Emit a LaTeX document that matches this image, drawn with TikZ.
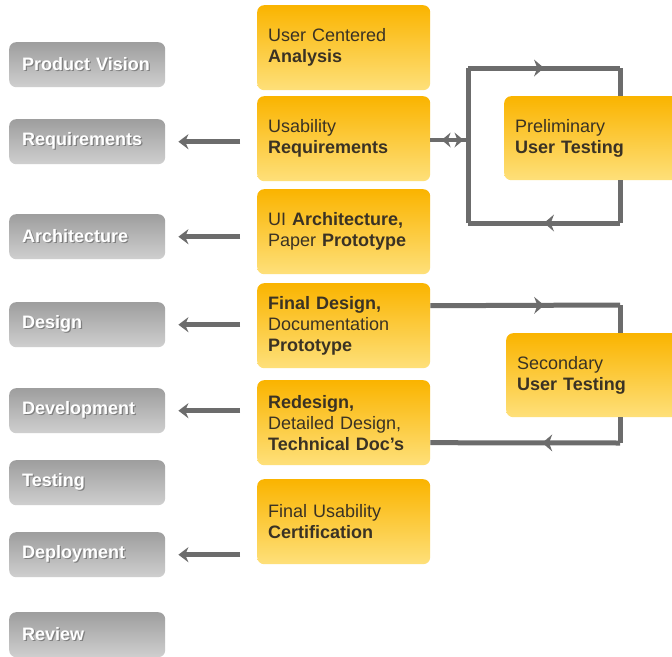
\documentclass[tikz,border=0pt]{standalone}
\usepackage{fontspec}
\setmainfont{Liberation Sans}
\usetikzlibrary{arrows.meta,decorations.markings}

\definecolor{phasetop}{HTML}{9E9E9E}
\definecolor{phasebottom}{HTML}{CFCFCF}
\definecolor{acttop}{HTML}{FAB400}
\definecolor{actbottom}{HTML}{FEE07A}
\definecolor{acttext}{HTML}{3A3224}
\definecolor{linkgray}{HTML}{6C6C6C}

\newcommand*\phasewidth{156pt}
\newcommand*\phaseheight{45pt}
\newcommand*\actwidth{173pt}
\newcommand*\actheight{85pt}
\newcommand*\embossed[1]{\makebox[0pt][l]{\hspace{1.2pt}\raisebox{-1.2pt}{\color{black!50}#1}}#1}

\tikzset{
  phase/.style={
    rectangle,
    rounded corners=7pt,
    anchor=north west,
    top color=phasetop,
    bottom color=phasebottom,
    text=white,
    font=\fontsize{18}{21}\selectfont\bfseries,
    inner xsep=13pt,
    text width=\phasewidth-26pt,
    minimum height=\phaseheight,
    align=left
  },
  activity/.style={
    rectangle,
    rounded corners=7pt,
    anchor=north west,
    top color=acttop,
    bottom color=actbottom,
    text=acttext,
    font=\fontsize{18}{21}\selectfont,
    inner xsep=11pt,
    text width=\actwidth-22pt,
    minimum height=\actheight,
    align=left
  },
  testing/.style={
    activity,
    text width=170pt,
    minimum height=84pt
  },
  feed/.style={
    draw=linkgray,
    line width=5pt,
    -{Stealth[length=10pt,width=15pt]}
  },
  loopline/.style={
    draw=linkgray,
    line width=5pt
  },
  midarrow/.style={
    postaction={decorate},
    decoration={markings,
      mark=at position #1 with {\arrow{Stealth[length=10pt,width=17pt,line width=0pt]}}}
  },
  midarrow/.default=0.5
}

\begin{document}
\begin{tikzpicture}[x=1pt,y=-1pt]

    \clip (0,0) rectangle (672,656);
    \fill[white] (0,0) rectangle (672,656);

    % Phases down the left side.
    \foreach \name/\ypos/\phasename in {vision/42/Product Vision,req/119/Requirements,arch/214/Architecture,design/302/Design,dev/388/Development,test/460/Testing,deploy/532/Deployment,review/612/Review}
        \node[phase] (\name) at (9,\ypos) {\embossed{\phasename}};

    % Usability activities in the middle column.
    \node[activity] (uca) at (257,5) {User Centered\\\textbf{Analysis}};
    \node[activity] (ureq) at (257,96) {Usability\\\textbf{Requirements}};
    \node[activity] (uiarch) at (257,189) {UI \textbf{Architecture,}\\Paper \textbf{Prototype}};
    \node[activity] (fdes) at (257,283) {\textbf{Final Design,}\\Documentation\\\textbf{Prototype}};
    \node[activity] (redes) at (257,380) {\textbf{Redesign,}\\Detailed Design,\\\textbf{Technical Doc's}};
    \node[activity] (cert) at (257,479) {Final Usability\\\textbf{Certification}};

    % Test rounds on the right.
    \node[testing] (prelim) at (504,96) {Preliminary\\\textbf{User Testing}};
    \node[testing] (second) at (506,333) {Secondary\\\textbf{User Testing}};

    % Activities feed the phases.
    \foreach \from/\to in {ureq/req,uiarch/arch,fdes/design,redes/dev,cert/deploy}
        \draw[feed] ([xshift=-17pt]\from.west |- \to.east) -- ([xshift=13pt]\to.east);

    % Preliminary loop.
    \coordinate (pl) at (468,140);
    \coordinate (pltl) at (468,68);
    \coordinate (pltr) at (620,68);
    \coordinate (plbr) at (620,223);
    \coordinate (plbl) at (468,223);
    \draw[loopline] (plbl) -- (pltl);
    \draw[loopline,midarrow] (pltl) -- (pltr);
    \draw[loopline] (pltr) -- (pltr |- prelim.north);
    \draw[loopline] (plbr |- prelim.south) -- (plbr);
    \draw[loopline,midarrow] (plbr) -- (plbl);
    \draw[draw=linkgray,line width=4.5pt,postaction={decorate},
        decoration={markings,
          mark=at position 0.3 with {\arrowreversed{Stealth[length=9pt,width=15pt,line width=0pt]}},
          mark=at position 0.88 with {\arrow{Stealth[length=9pt,width=15pt,line width=0pt]}}}]
        (ureq.east |- pl) -- (pl);

    % Secondary loop.
    \coordinate (sltr) at (620,305);
    \coordinate (slbr) at (620,443);
    \draw[loopline,midarrow=0.6] ([yshift=20pt]fdes.east) -- (sltr);
    \draw[loopline] (sltr) -- (sltr |- second.north);
    \draw[loopline] (slbr |- second.south) -- (slbr);
    \draw[loopline,midarrow=0.41] (slbr) -- ([yshift=-20pt]redes.east);

\end{tikzpicture}
\end{document}
